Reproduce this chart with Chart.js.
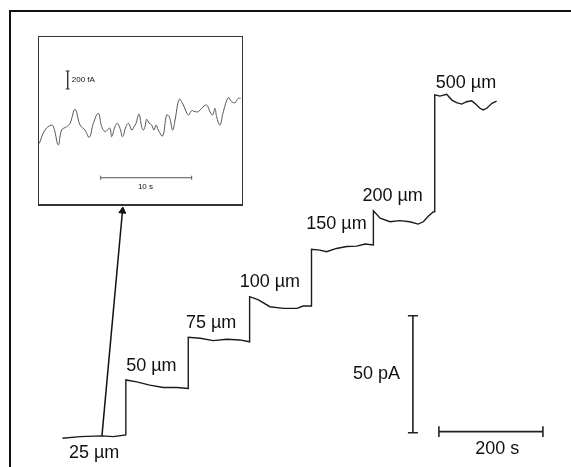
<!DOCTYPE html>
<html>
<head>
<meta charset="utf-8">
<script src="https://cdn.jsdelivr.net/npm/chart.js@4/dist/chart.umd.min.js"></script>
<style>
  html, body { margin: 0; padding: 0; background: #fff; }
  #wrap { position: relative; width: 571px; height: 467px; overflow: hidden; }
  /* canvases are 6px larger each side; layout padding 6 keeps the plot area on the page box */
  #main { position: absolute; left: -6px; top: -6px; }
  #frame { position: absolute; left: 9px; top: 10px; right: -5px; bottom: -5px;
           border-top: 2px solid #111; border-left: 2px solid #111; }
  #insetBox { position: absolute; left: 38px; top: 36px; width: 203px; height: 167px;
              border: 1px solid #333; border-bottom-width: 2px; background: #fff; overflow: hidden; }
  #inset { position: absolute; left: -6px; top: -6px; }
</style>
</head>
<body>
<div id="wrap">
  <div id="frame"></div>
  <canvas id="main" width="583" height="479"></canvas>
  <div id="insetBox"><canvas id="inset" width="215" height="179"></canvas></div>
</div>
<script>
// ===== DATA =====
// main trace: time (s) vs current (pA), steps at each new concentration
const traceTime = [0, 34, 76, 98, 122,
  122, 143, 168, 194, 220, 242,
  242, 265, 290, 316, 341, 360,
  360, 377, 399, 425, 451, 463, 479,
  479, 495, 508, 527, 547, 566, 582, 598,
  598, 611, 630, 649, 668, 684, 694, 704, 713, 716,
  716, 726, 739, 749, 758, 768, 777, 787, 793, 803, 809, 816, 826, 835];
const traceCurrent = [-0.7, 0, 0.3, 0, 0.7,
  24.2, 23.4, 22.0, 21.0, 21.0, 20.6,
  42.4, 42.0, 41.0, 41.6, 41.3, 40.5,
  59.8, 58.4, 55.5, 54.8, 54.8, 55.8, 55.8,
  80.0, 79.7, 79.0, 80.4, 81.2, 81.4, 82.3, 81.9,
  96.5, 93.3, 91.8, 92.3, 91.8, 90.8, 91.8, 94.3, 96.0, 96.1,
  146.0, 145.5, 146.3, 143.8, 142.7, 142.1, 143.1, 143.5, 142.4, 140.3, 139.6, 140.3, 142.4, 143.4];

// step labels (concentration) and where they sit (s, pA)
const stepLabels = ["25 µm", "50 µm", "75 µm", "100 µm", "150 µm", "200 µm", "500 µm"];
const stepLabelTime = [61, 171, 286, 399, 527, 635, 776];
const stepLabelCurrent = [-6.9, 30.2, 48.5, 66.2, 90.8, 102.9, 151.3];

// scale bars: 50 pA and 200 s
const barCurrentTime = 674, barCurrentFrom = 1.65, barCurrentTo = 51.65;
const barTimeCurrent = 2.1, barTimeFrom = 724, barTimeTo = 924;

// arrow from baseline to the inset
const arrowTime = [76, 115.5];
const arrowCurrent = [0.2, 96.4];

// inset: expanded baseline, time (s) vs current (fA)
const insetTime = [0.04, 0.66, 1.39, 1.65, 2.12, 2.49, 3.04, 3.41, 3.96, 4.51, 5.05, 5.53, 5.97, 6.52,
  6.89, 7.25, 7.51, 7.80, 7.99, 8.35, 8.61, 8.90, 9.19, 9.56, 9.85, 10.18, 10.44, 10.66, 10.99,
  11.28, 11.47, 11.65, 11.83, 12.12, 12.38, 12.64, 12.86, 13.11, 13.59, 14.03, 14.32, 14.69, 14.95,
  15.42, 15.86, 16.41, 16.78, 17.14, 17.51, 17.88, 18.42, 18.79, 19.08, 19.34, 19.52, 19.89, 20.26,
  20.81, 21.17, 21.54, 21.90, 22.16];
const insetCurrent = [674, 822, 878, 841, 656, 822, 859, 896, 1052, 878, 822, 741, 896, 1007,
  859, 804, 822, 841, 748, 859, 896, 841, 748, 859, 896, 822, 859, 896, 1000,
  859, 822, 859, 941, 896, 878, 822, 878, 822, 756, 989, 970, 822, 933,
  1163, 1100, 989, 1037, 1026, 1026, 1063, 1100, 1026, 989, 1063, 970, 878, 1026,
  1182, 1137, 1126, 1174, 1174];
const insetBarCurrentTime = 3.15, insetBarCurrentFrom = 1278, insetBarCurrentTo = 1478;
const insetBarTimeCurrent = 292, insetBarTimeFrom = 6.78, insetBarTimeTo = 16.78;

const FONT = "'Liberation Sans', Arial, sans-serif";

function pts(xs, ys) { return xs.map((x, i) => ({ x, y: ys[i] })); }

// vertical bar with caps / horizontal bar with ticks, gaps as nulls
function vBar(x, y0, y1, cap) {
  return [{ x: x - cap, y: y1 }, { x: x + cap, y: y1 }, { x: x, y: null },
          { x: x, y: y1 }, { x: x, y: y0 }, { x: x, y: null },
          { x: x - cap, y: y0 }, { x: x + cap, y: y0 }];
}
function hBar(y, x0, x1, tick) {
  return [{ x: x0, y: y - tick }, { x: x0, y: y + tick }, { x: x0, y: null },
          { x: x0, y: y }, { x: x1, y: y }, { x: x1, y: null },
          { x: x1, y: y - tick }, { x: x1, y: y + tick }];
}

// text labels drawn in data coordinates
const textPlugin = {
  id: "texts",
  afterDatasetsDraw(chart, args, opts) {
    const { ctx, scales } = chart;
    ctx.save();
    ctx.fillStyle = "#111";
    ctx.textBaseline = "middle";
    opts.items.forEach(t => {
      ctx.font = t.size + "px " + FONT;
      ctx.textAlign = t.align || "center";
      ctx.fillText(t.text, scales.x.getPixelForValue(t.x), scales.y.getPixelForValue(t.y));
    });
    ctx.restore();
  }
};

const hiddenScales = (xmin, xmax, ymin, ymax) => ({
  x: { type: "linear", display: false, min: xmin, max: xmax },
  y: { type: "linear", display: false, min: ymin, max: ymax }
});

window.addEventListener("load", () => {
  const mainTexts = stepLabels.map((s, i) => ({ text: s, x: stepLabelTime[i], y: stepLabelCurrent[i], size: 18 }));
  mainTexts.push({ text: "50 pA", x: 604, y: 26.7, size: 18 });
  mainTexts.push({ text: "200 s", x: 836, y: -5.3, size: 18 });

  new Chart(document.getElementById("main"), {
    type: "line",
    data: {
      datasets: [
        { data: pts(traceTime, traceCurrent), borderColor: "#1a1a1a", borderWidth: 1.4, pointRadius: 0, tension: 0 },
        { data: pts(arrowTime, arrowCurrent), borderColor: "#111", borderWidth: 1.5, tension: 0,
          pointRadius: [0, 4], pointStyle: "triangle", pointRotation: 5,
          pointBackgroundColor: "#111", pointBorderColor: "#111", pointBorderWidth: 1 },
        { data: vBar(barCurrentTime, barCurrentFrom, barCurrentTo, 9.6), borderColor: "#222", borderWidth: 1.6, pointRadius: 0, spanGaps: false },
        { data: hBar(barTimeCurrent, barTimeFrom, barTimeTo, 2.3), borderColor: "#222", borderWidth: 1.6, pointRadius: 0, spanGaps: false }
      ]
    },
    options: {
      responsive: false,
      animation: false,
      layout: { padding: 6 },
      clip: false,
      plugins: { legend: { display: false }, tooltip: { enabled: false }, texts: { items: mainTexts } },
      scales: hiddenScales(-120, 978, -13, 186.57)
    },
    plugins: [textPlugin]
  });

  new Chart(document.getElementById("inset"), {
    type: "line",
    data: {
      datasets: [
        { data: pts(insetTime, insetCurrent), borderColor: "#555", borderWidth: 1, pointRadius: 0, tension: 0.4 },
        { data: vBar(insetBarCurrentTime, insetBarCurrentFrom, insetBarCurrentTo, 0.22), borderColor: "#333", borderWidth: 1, pointRadius: 0, spanGaps: false },
        { data: hBar(insetBarTimeCurrent, insetBarTimeFrom, insetBarTimeTo, 22), borderColor: "#555", borderWidth: 1, pointRadius: 0, spanGaps: false }
      ]
    },
    options: {
      responsive: false,
      animation: false,
      layout: { padding: 6 },
      clip: false,
      plugins: {
        legend: { display: false }, tooltip: { enabled: false },
        texts: { items: [
          { text: "200 fA", x: 3.6, y: 1378, size: 8, align: "left" },
          { text: "10 s", x: 11.7, y: 192, size: 8 }
        ] }
      },
      scales: hiddenScales(0, 22.31, 0, 1855.6)
    },
    plugins: [textPlugin]
  });
});
</script>
</body>
</html>
